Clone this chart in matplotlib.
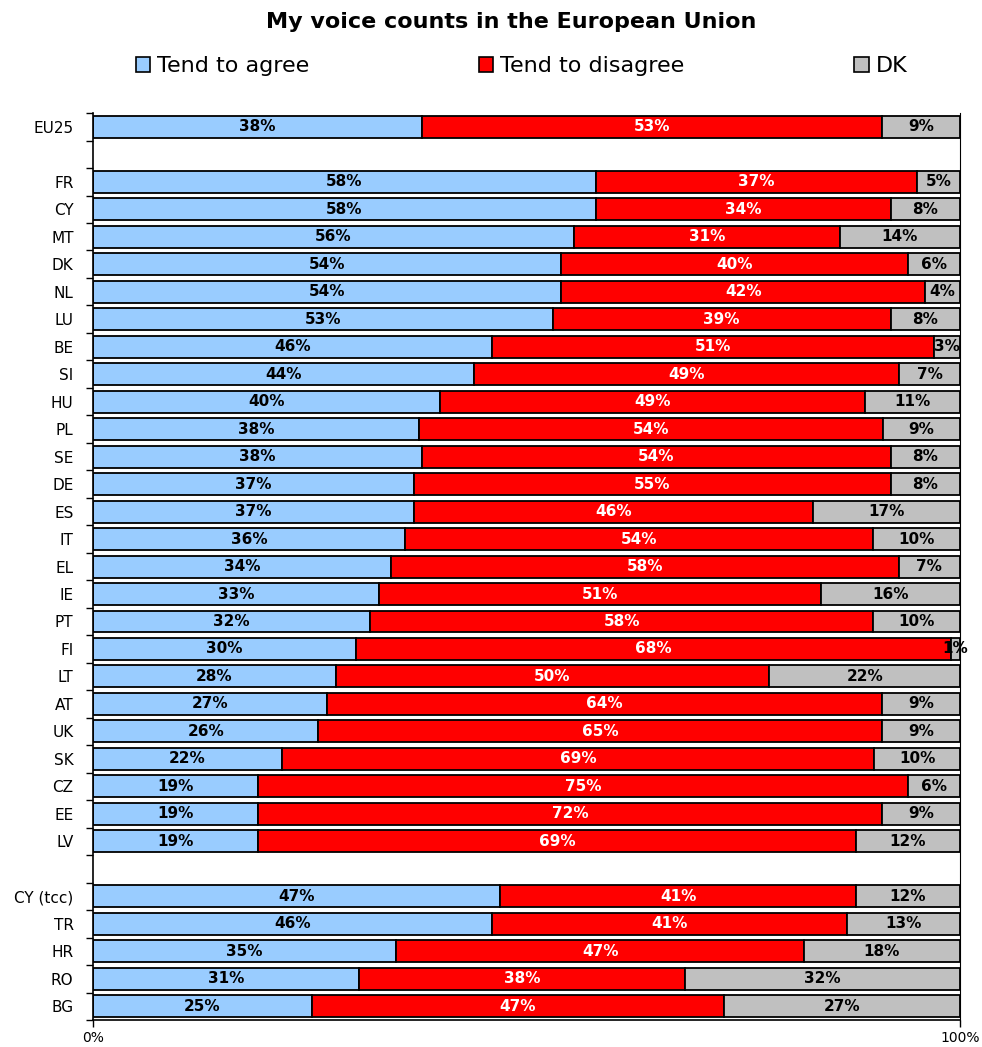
import numpy as np
import matplotlib.pyplot as plt
from matplotlib.patches import Patch

# groups of rows, a blank row between groups
eu = ['EU25']
members = ['FR', 'CY', 'MT', 'DK', 'NL', 'LU', 'BE', 'SI', 'HU', 'PL', 'SE', 'DE', 'ES',
           'IT', 'EL', 'IE', 'PT', 'FI', 'LT', 'AT', 'UK', 'SK', 'CZ', 'EE', 'LV']
others = ['CY (tcc)', 'TR', 'HR', 'RO', 'BG']

agree = [38,
         58, 58, 56, 54, 54, 53, 46, 44, 40, 38, 38, 37, 37, 36, 34, 33, 32, 30, 28, 27, 26, 22, 19, 19, 19,
         47, 46, 35, 31, 25]
disagree = [53,
            37, 34, 31, 40, 42, 39, 51, 49, 49, 54, 54, 55, 46, 54, 58, 51, 58, 68, 50, 64, 65, 69, 75, 72, 69,
            41, 41, 47, 38, 47]
dk = [9,
      5, 8, 14, 6, 4, 8, 3, 7, 11, 9, 8, 8, 17, 10, 7, 16, 10, 1, 22, 9, 9, 10, 6, 9, 12,
      12, 13, 18, 32, 27]

series = ['Tend to agree', 'Tend to disagree', 'DK']
colors = ['#99CCFF', '#FF0000', '#C0C0C0']
text_colors = ['black', 'white', 'black']

labels = eu + members + others
ypos = []
pos = 0
for group in (eu, members, others):
    for _ in group:
        ypos.append(pos)
        pos += 1
    pos += 1
nrows = pos - 1
ypos = np.array(ypos)

vals = np.array([agree, disagree, dk], dtype=float)
shares = vals / vals.sum(axis=0) * 100

fig = plt.figure(figsize=(9.82, 10.47), dpi=100)
ax = fig.add_axes([0.0947, 0.0258, 0.8829, 0.8662])

left = np.zeros(len(labels))
for i in range(3):
    ax.barh(ypos, shares[i], left=left, height=0.8, color=colors[i],
            edgecolor='black', linewidth=1.3)
    for y, l, w, v in zip(ypos, left, shares[i], vals[i]):
        ax.text(l + w / 2, y, '%d%%' % v, ha='center', va='center',
                fontsize=11, fontweight='bold', color=text_colors[i])
    left += shares[i]

ax.set_xlim(0, 100)
ax.set_ylim(nrows - 0.5, -0.5)
ax.set_xticks([0, 100])
ax.set_xticklabels(['0%', '100%'], fontsize=10)
ax.tick_params(axis='x', length=5, width=1, pad=3)

ax.set_yticks(np.arange(-0.5, nrows, 1.0))
ax.set_yticklabels([])
ax.tick_params(axis='y', which='major', length=5, width=1)
ax.set_yticks(ypos, minor=True)
ax.set_yticklabels(labels, minor=True, fontsize=11)
ax.tick_params(axis='y', which='minor', length=0, pad=14)

ax.spines['top'].set_visible(False)
ax.spines['left'].set_linewidth(1.2)
ax.spines['bottom'].set_linewidth(1.2)
ax.spines['right'].set_linewidth(0.8)

fig.text(0.521, 0.979, 'My voice counts in the European Union', ha='center', va='center',
         fontsize=16, fontweight='bold')

handles = [Patch(facecolor=c, edgecolor='black', linewidth=1.2) for c in colors]
fig.legend(handles, series, loc='center', bbox_to_anchor=(0.531, 0.937), ncol=3,
           frameon=False, fontsize=16, handlelength=0.65, handleheight=0.65,
           handletextpad=0.3, columnspacing=7.65)

fig.savefig('out.png', dpi=100)
